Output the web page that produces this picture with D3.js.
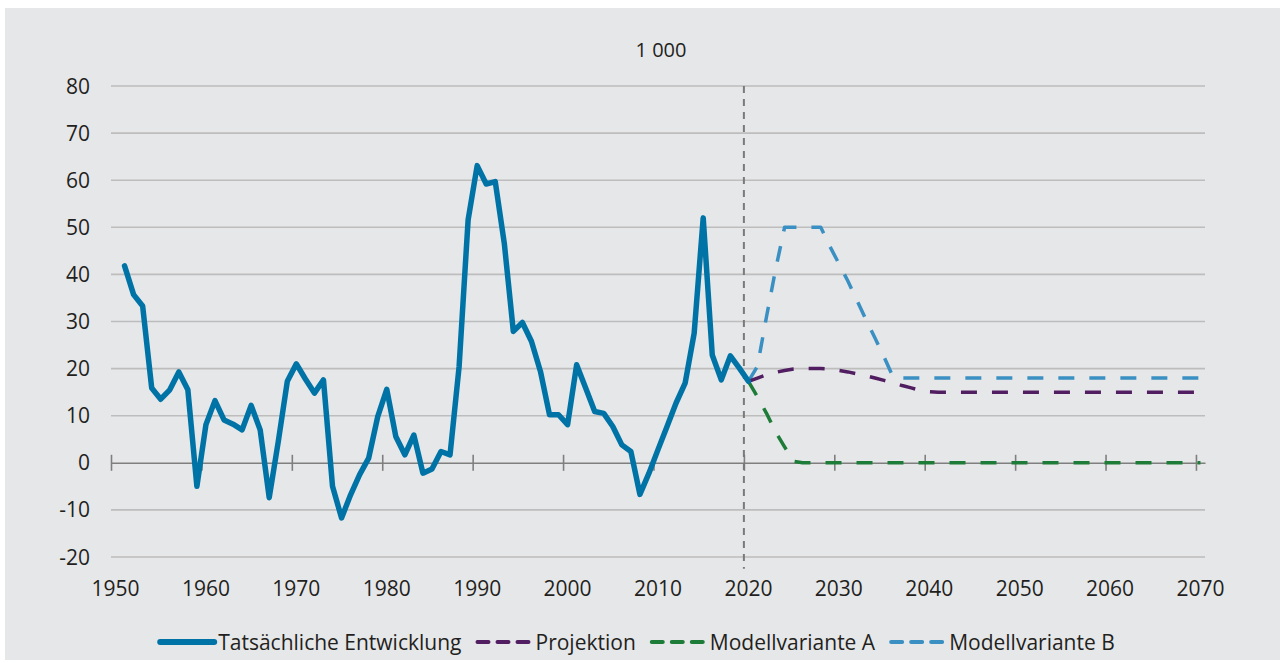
<!DOCTYPE html>
<html>
<head>
<meta charset="utf-8">
<script src="https://cdn.jsdelivr.net/npm/d3@7"></script>
<style>
  html, body { margin: 0; padding: 0; background: #ffffff; }
  svg text { font-family: "Open Sans", "Noto Sans", sans-serif; fill: #231f20; }
</style>
</head>
<body>
<div id="chart"></div>
<script>
// Tatsächliche Entwicklung, 1951 - 2020
const actualYears = d3.range(1951, 2021)
const actualValues = [
    41.8, 35.7, 33.3, 15.9, 13.5, 15.5, 19.3, 15.5, -5.0, 8.1,
    13.2, 9.1, 8.2, 7.0, 12.2, 7.0, -7.4, 4.5, 17.3, 21.0,
    17.8, 14.8, 17.6, -5.0, -11.7, -6.8, -2.5, 1.0, 9.8, 15.6,
    5.6, 1.7, 5.9, -2.2, -1.3, 2.4, 1.7, 20.4, 51.6, 63.1,
    59.2, 59.7, 46.6, 27.9, 29.8, 25.8, 19.4, 10.2, 10.2, 8.1,
    20.8, 15.9, 10.9, 10.5, 7.7, 3.8, 2.4, -6.7, -2.2, 2.8,
    7.7, 12.7, 16.9, 27.5, 52.0, 22.9, 17.6, 22.7, 20.1, 17.3
]

// Vorausberechnungen, 2020 - 2070
const projYears = d3.range(2020, 2071)
const projektion = [
    17.3, 18.0, 18.7, 19.2, 19.6, 19.9, 20.0, 20.0, 20.0, 19.9,
    19.6, 19.3, 18.9, 18.5, 18.0, 17.5, 17.0, 16.4, 15.9, 15.4,
    15.1, 15.0, 15.0, 15.0, 15.0, 15.0, 15.0, 15.0, 15.0, 15.0,
    15.0, 15.0, 15.0, 15.0, 15.0, 15.0, 15.0, 15.0, 15.0, 15.0,
    15.0, 15.0, 15.0, 15.0, 15.0, 15.0, 15.0, 15.0, 15.0, 15.0,
    15.0
]
const varianteA = [
    17.3, 14.0, 10.5, 6.6, 3.4, 0.3, 0.0, 0.0, 0.0, 0.0,
    0.0, 0.0, 0.0, 0.0, 0.0, 0.0, 0.0, 0.0, 0.0, 0.0,
    0.0, 0.0, 0.0, 0.0, 0.0, 0.0, 0.0, 0.0, 0.0, 0.0,
    0.0, 0.0, 0.0, 0.0, 0.0, 0.0, 0.0, 0.0, 0.0, 0.0,
    0.0, 0.0, 0.0, 0.0, 0.0, 0.0, 0.0, 0.0, 0.0, 0.0,
    0.0
]
const varianteB = [
    17.3, 20.5, 31.0, 41.0, 50.0, 50.0, 50.0, 50.0, 50.0, 46.0,
    42.3, 38.6, 34.5, 30.4, 26.5, 22.5, 18.2, 18.0, 18.0, 18.0,
    18.0, 18.0, 18.0, 18.0, 18.0, 18.0, 18.0, 18.0, 18.0, 18.0,
    18.0, 18.0, 18.0, 18.0, 18.0, 18.0, 18.0, 18.0, 18.0, 18.0,
    18.0, 18.0, 18.0, 18.0, 18.0, 18.0, 18.0, 18.0, 18.0, 18.0,
    18.0
]

const yTicks = [80, 70, 60, 50, 40, 30, 20, 10, 0, -10, -20]
const xTickLabels = [1950, 1960, 1970, 1980, 1990, 2000, 2010, 2020, 2030, 2040, 2050, 2060, 2070]
const unitLabel = "1 000"

const seriesInfo = [
    { name: "Tatsächliche Entwicklung", color: "#0073a6", width: 5.5, dash: null },
    { name: "Projektion", color: "#521e62", width: 3.5, dash: "16,15" },
    { name: "Modellvariante A", color: "#1d7c37", width: 3.5, dash: "16,15" },
    { name: "Modellvariante B", color: "#3a90c2", width: 3.5, dash: "16,15" }
]

const width = 1280, height = 663

const svg = d3.select("#chart").append("svg")
    .attr("width", width)
    .attr("height", height)

// background panel
svg.append("rect")
    .attr("x", 5).attr("y", 8)
    .attr("width", width - 5).attr("height", height - 11)
    .attr("fill", "#e6e7e9")

// categories sit between tick marks, like the spreadsheet chart
const x = d3.scaleLinear().domain([1949.5, 2070.5]).range([111, 1205])
const y = d3.scaleLinear().domain([-20, 80]).range([557, 86])

// gridlines
svg.append("g")
    .selectAll("line")
    .data(yTicks.filter(d => d !== 0))
    .join("line")
    .attr("x1", x.range()[0]).attr("x2", x.range()[1])
    .attr("y1", d => y(d)).attr("y2", d => y(d))
    .attr("stroke", "#bdbdbd")
    .attr("stroke-width", 1.6)

// y labels
svg.append("g")
    .selectAll("text")
    .data(yTicks)
    .join("text")
    .attr("x", 90)
    .attr("y", d => y(d) + 7.5)
    .attr("text-anchor", "end")
    .style("font-size", "21px")
    .text(d => d)

// zero axis with tick marks
const xAxis = d3.axisBottom(x)
    .tickValues(xTickLabels.map(d => d - 0.5))
    .tickSizeInner(0)
    .tickSizeOuter(0)
    .tickFormat("")
const axisG = svg.append("g")
    .attr("transform", "translate(0," + y(0) + ")")
    .call(xAxis)
axisG.select(".domain").attr("stroke", "#7f7f7f").attr("stroke-width", 1.6)
axisG.selectAll(".tick line")
    .attr("y1", -8).attr("y2", 8)
    .attr("stroke", "#7f7f7f").attr("stroke-width", 1.6)

// x labels
svg.append("g")
    .selectAll("text")
    .data(xTickLabels)
    .join("text")
    .attr("x", d => x(d))
    .attr("y", 596)
    .attr("text-anchor", "middle")
    .style("font-size", "21px")
    .text(d => d)

// unit label
svg.append("text")
    .attr("x", 661).attr("y", 57)
    .attr("text-anchor", "middle")
    .style("font-size", "20px")
    .text(unitLabel)

// vertical dashed separator at 2020
svg.append("line")
    .attr("x1", x(2019.5)).attr("x2", x(2019.5))
    .attr("y1", y(80)).attr("y2", y(-22.5))
    .attr("stroke", "#7a7a7a")
    .attr("stroke-width", 2)
    .attr("stroke-dasharray", "7,6")

const line = d3.line()
    .x(d => x(d[0]))
    .y(d => y(d[1]))

const seriesData = [
    actualYears.map((yr, i) => [yr, actualValues[i]]),
    projYears.map((yr, i) => [yr, projektion[i]]),
    projYears.map((yr, i) => [yr, varianteA[i]]),
    projYears.map((yr, i) => [yr, varianteB[i]])
]

// draw projections first, actual line on top
;[3, 1, 2, 0].forEach(i => {
    const s = seriesInfo[i]
    svg.append("path")
        .datum(seriesData[i])
        .attr("d", line)
        .attr("fill", "none")
        .attr("stroke", s.color)
        .attr("stroke-width", s.width)
        .attr("stroke-linejoin", "round")
        .attr("stroke-linecap", s.dash ? "butt" : "round")
        .attr("stroke-dasharray", s.dash)
})

// legend
const legend = svg.append("g")
const legendY = 642
let cursor = 0
const items = seriesInfo.map(s => {
    const g = legend.append("g")
    g.append("line")
        .attr("x1", 0).attr("x2", 54)
        .attr("y1", 0).attr("y2", 0)
        .attr("stroke", s.color)
        .attr("stroke-width", s.dash ? 4 : 6)
        .attr("stroke-linecap", "round")
        .attr("stroke-dasharray", s.dash ? "11,9" : null)
    const t = g.append("text")
        .attr("x", 58).attr("y", 7.5)
        .style("font-size", "21px")
        .text(s.name)
    const w = 58 + t.node().getComputedTextLength()
    g.attr("data-x", cursor)
    const item = { g, x: cursor }
    cursor += w + 16
    return item
})
const totalW = cursor - 16
const startX = 637.5 - totalW / 2
items.forEach(it => it.g.attr("transform", "translate(" + (startX + it.x) + "," + legendY + ")"))
</script>
</body>
</html>
